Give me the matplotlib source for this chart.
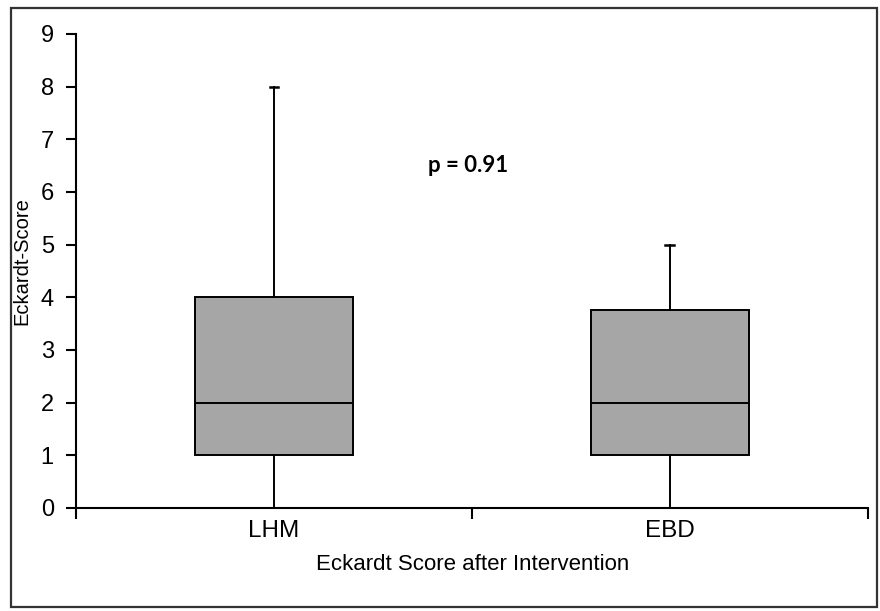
import matplotlib.pyplot as plt
from matplotlib.patches import Rectangle

# Datos
grupos = ["LHM", "EBD"]
minimos = [0, 0]
q1 = [1, 1]
medianas = [2, 2]
q3 = [4, 3.75]
maximos = [8, 5]

plt.rcParams['font.family'] = 'Liberation Sans'
plt.rcParams['font.size'] = 16

fig = plt.figure(figsize=(8.8, 6.11), dpi=100)
ax = fig.add_axes([0.0864, 0.1686, 0.8996, 0.7758])

stats = []
for g, lo, a, m, b, hi in zip(grupos, minimos, q1, medianas, q3, maximos):
    stats.append({'label': g, 'whislo': lo, 'q1': a, 'med': m, 'q3': b, 'whishi': hi})

ax.bxp(stats, positions=[0.5, 1.5], widths=0.4, showfliers=False, patch_artist=True,
       boxprops=dict(facecolor='#a6a6a6', edgecolor='black', linewidth=1.4),
       medianprops=dict(color='black', linewidth=1.4),
       whiskerprops=dict(color='black', linewidth=1.4),
       capprops=dict(color='black', linewidth=1.8), capwidths=0.022)

ax.set_xlim(0, 2)
ax.set_ylim(0, 9)
ax.set_yticks(range(0, 10))
ax.set_xticks([0, 1, 2])
ax.set_xticklabels([])
ax.set_xticks([0.5, 1.5], minor=True)
ax.set_xticklabels(grupos, minor=True, fontsize=17.5)
ax.tick_params(axis='x', which='minor', length=0, pad=9)
ax.tick_params(axis='x', which='major', length=8, width=1.5, direction='out')
ax.tick_params(axis='y', length=7, width=1.5, direction='out', pad=9, labelsize=17)

ax.spines['top'].set_visible(False)
ax.spines['right'].set_visible(False)
ax.spines['left'].set_linewidth(1.5)
ax.spines['bottom'].set_linewidth(1.5)

ax.set_xlabel("Eckardt Score after Intervention", fontsize=16)
ax.xaxis.set_label_coords(0.501, -0.097)
ax.set_ylabel("Eckardt-Score", fontsize=14.5)
ax.yaxis.set_label_coords(-0.056, 0.52)

ax.text(0.99, 6.5, "p = 0.91", fontsize=16, fontweight='bold', family='Lato',
        ha='center', va='center')

# Marco exterior
fig.patches.append(Rectangle((11/880, 4/611), 866/880, 599/611, transform=fig.transFigure,
                             fill=False, edgecolor='#333333', linewidth=1.6))

fig.savefig('out.png', dpi=100)
